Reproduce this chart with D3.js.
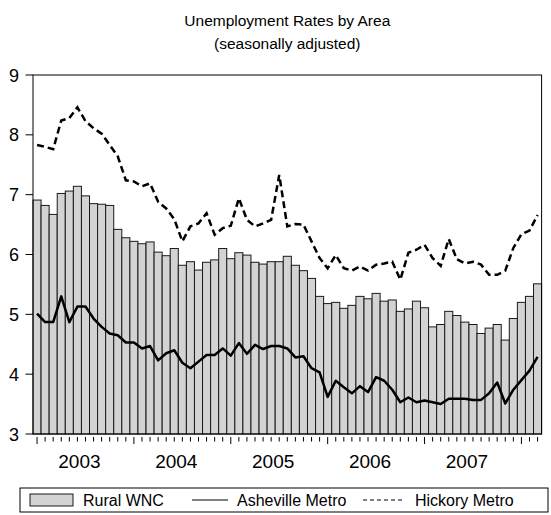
<!DOCTYPE html>
<html>
<head>
<meta charset="utf-8">
<script src="https://cdn.jsdelivr.net/npm/d3@7"></script>
<style>
  body { margin: 0; background: #fff; }
  svg text { font-family: "Liberation Sans", Arial, sans-serif; fill: #000; }
</style>
</head>
<body>
<div id="chart"></div>
<script>
// monthly observations, Jan 2003 - Mar 2008
const months = [
  "2003-01","2003-02","2003-03","2003-04","2003-05","2003-06","2003-07","2003-08","2003-09","2003-10","2003-11","2003-12",
  "2004-01","2004-02","2004-03","2004-04","2004-05","2004-06","2004-07","2004-08","2004-09","2004-10","2004-11","2004-12",
  "2005-01","2005-02","2005-03","2005-04","2005-05","2005-06","2005-07","2005-08","2005-09","2005-10","2005-11","2005-12",
  "2006-01","2006-02","2006-03","2006-04","2006-05","2006-06","2006-07","2006-08","2006-09","2006-10","2006-11","2006-12",
  "2007-01","2007-02","2007-03","2007-04","2007-05","2007-06","2007-07","2007-08","2007-09","2007-10","2007-11","2007-12",
  "2008-01","2008-02","2008-03"
]

const ruralWNC = [
  6.91, 6.82, 6.67, 7.02, 7.06, 7.14, 6.98, 6.85, 6.84, 6.82, 6.42, 6.28,
  6.22, 6.18, 6.21, 6.04, 5.98, 6.10, 5.82, 5.88, 5.74, 5.87, 5.91, 6.10,
  5.93, 6.03, 5.99, 5.87, 5.84, 5.88, 5.88, 5.97, 5.82, 5.73, 5.60, 5.30,
  5.18, 5.20, 5.10, 5.15, 5.30, 5.26, 5.35, 5.22, 5.24, 5.05, 5.09, 5.22,
  5.11, 4.79, 4.83, 5.05, 4.98, 4.87, 4.83, 4.68, 4.77, 4.83, 4.57, 4.93,
  5.20, 5.30, 5.51
]

const asheville = [
  5.01, 4.87, 4.87, 5.30, 4.87, 5.13, 5.13, 4.93, 4.79, 4.68, 4.65, 4.53,
  4.53, 4.43, 4.47, 4.23, 4.35, 4.40, 4.19, 4.10, 4.21, 4.32, 4.32, 4.43,
  4.31, 4.52, 4.34, 4.49, 4.42, 4.47, 4.47, 4.43, 4.28, 4.30, 4.10, 4.03,
  3.62, 3.89, 3.78, 3.68, 3.80, 3.70, 3.95, 3.89, 3.74, 3.53, 3.61, 3.53,
  3.56, 3.53, 3.50, 3.59, 3.59, 3.59, 3.57, 3.57, 3.68, 3.86, 3.51, 3.74,
  3.90, 4.06, 4.29
]

const hickory = [
  7.83, 7.80, 7.76, 8.24, 8.28, 8.46, 8.23, 8.11, 8.02, 7.83, 7.64, 7.24,
  7.22, 7.14, 7.19, 6.88, 6.77, 6.59, 6.22, 6.47, 6.52, 6.69, 6.33, 6.44,
  6.48, 6.94, 6.58, 6.47, 6.52, 6.58, 7.33, 6.47, 6.51, 6.50, 6.22, 5.94,
  5.77, 5.99, 5.77, 5.73, 5.80, 5.73, 5.83, 5.85, 5.88, 5.58, 6.03, 6.08,
  6.16, 5.94, 5.81, 6.26, 5.92, 5.85, 5.88, 5.83, 5.66, 5.66, 5.73, 6.11,
  6.34, 6.40, 6.66
]

const yearLabels = ["2003", "2004", "2005", "2006", "2007"]
const yTicks = [3, 4, 5, 6, 7, 8, 9]

const width = 551, height = 515
const plot = { left: 33, right: 541.6, top: 75, bottom: 434 }

const svg = d3.select("#chart")
  .append("svg")
  .attr("width", width)
  .attr("height", height)

const x = d3.scaleBand().domain(months).range([plot.left, plot.right]).padding(0)
const y = d3.scaleLinear().domain([3, 9]).range([plot.bottom, plot.top])
const bw = x.bandwidth()
const cx = m => x(m) + bw / 2

// title
svg.append("text")
  .attr("x", (plot.left + plot.right) / 2).attr("y", 26)
  .attr("text-anchor", "middle").style("font-size", "15.5px")
  .text("Unemployment Rates by Area")
svg.append("text")
  .attr("x", (plot.left + plot.right) / 2).attr("y", 49)
  .attr("text-anchor", "middle").style("font-size", "15.5px")
  .text("(seasonally adjusted)")

// bars
svg.append("g").selectAll("rect")
  .data(months)
  .join("rect")
  .attr("x", d => x(d))
  .attr("y", (d, i) => y(ruralWNC[i]))
  .attr("width", bw)
  .attr("height", (d, i) => y(3) - y(ruralWNC[i]))
  .attr("fill", "#d3d3d3")
  .attr("stroke", "#1a1a1a")
  .attr("stroke-width", 1)

const line = d3.line()
  .x(d => cx(d.m))
  .y(d => y(d.v))

svg.append("path")
  .datum(months.map((m, i) => ({ m: m, v: asheville[i] })))
  .attr("d", line)
  .attr("fill", "none")
  .attr("stroke", "#000")
  .attr("stroke-width", 2.5)
  .attr("stroke-linejoin", "round")

svg.append("path")
  .datum(months.map((m, i) => ({ m: m, v: hickory[i] })))
  .attr("d", line)
  .attr("fill", "none")
  .attr("stroke", "#000")
  .attr("stroke-width", 2.5)
  .attr("stroke-dasharray", "7,4")

// frame
svg.append("rect")
  .attr("x", plot.left).attr("y", plot.top)
  .attr("width", plot.right - plot.left).attr("height", plot.bottom - plot.top)
  .attr("fill", "none").attr("stroke", "#000").attr("stroke-width", 1)

// y axis ticks + labels
const yAxis = svg.append("g")
yAxis.selectAll("line").data(yTicks).join("line")
  .attr("x1", 25.5).attr("x2", 33)
  .attr("y1", d => y(d)).attr("y2", d => y(d))
  .attr("stroke", "#000")
yAxis.selectAll("text").data(yTicks).join("text")
  .attr("x", 19).attr("y", d => y(d) + 6.5)
  .attr("text-anchor", "end").style("font-size", "18px")
  .text(d => d)

// x axis: monthly ticks, long ones at January
const xAxis = svg.append("g")
xAxis.selectAll("line").data(months).join("line")
  .attr("x1", d => cx(d)).attr("x2", d => cx(d))
  .attr("y1", plot.bottom + 3)
  .attr("y2", d => d.endsWith("-01") ? plot.bottom + 10 : plot.bottom + 7.5)
  .attr("stroke", "#000")
xAxis.selectAll("text").data(yearLabels).join("text")
  .attr("x", d => (cx(d + "-01") + cx(d + "-12")) / 2 - 2)
  .attr("y", 468)
  .attr("text-anchor", "middle").style("font-size", "19px")
  .text(d => d)

// legend
const legend = svg.append("g")
legend.append("rect")
  .attr("x", 20).attr("y", 488).attr("width", 528).attr("height", 24)
  .attr("fill", "none").attr("stroke", "#000")
legend.append("rect")
  .attr("x", 30).attr("y", 494).attr("width", 43).attr("height", 12)
  .attr("fill", "#d3d3d3").attr("stroke", "#1a1a1a")
legend.append("text").attr("x", 83).attr("y", 506).style("font-size", "16px").text("Rural WNC")
legend.append("line")
  .attr("x1", 192).attr("x2", 228).attr("y1", 500).attr("y2", 500)
  .attr("stroke", "#000").attr("stroke-width", 1)
legend.append("text").attr("x", 237).attr("y", 506).style("font-size", "16px").text("Asheville Metro")
legend.append("line")
  .attr("x1", 363).attr("x2", 402).attr("y1", 500).attr("y2", 500)
  .attr("stroke", "#000").attr("stroke-width", 1).attr("stroke-dasharray", "4,3")
legend.append("text").attr("x", 415).attr("y", 506).style("font-size", "16px").text("Hickory Metro")
</script>
</body>
</html>
